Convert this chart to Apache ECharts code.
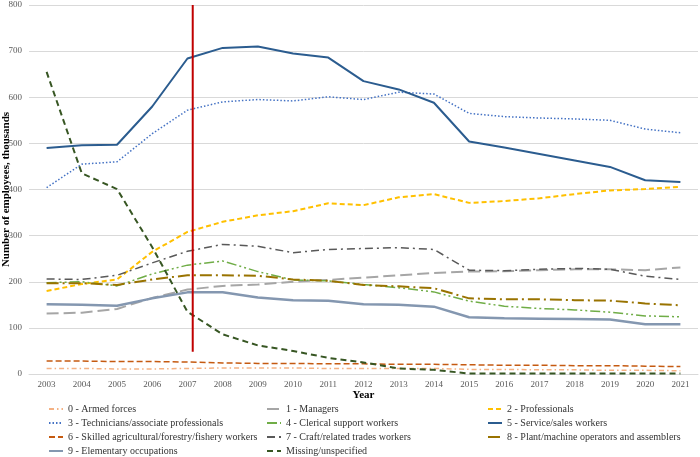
<!DOCTYPE html>
<html>
<head>
<meta charset="utf-8">
<script src="https://cdn.jsdelivr.net/npm/echarts@6/dist/echarts.min.js"></script>
<style>
  html, body { margin: 0; padding: 0; background: #fff; }
  #chart { width: 700px; height: 457px; }
</style>
</head>
<body>
<div id="chart"></div>
<script>
// years on the x axis
var years = ['2003','2004','2005','2006','2007','2008','2009','2010','2011','2012',
             '2013','2014','2015','2016','2017','2018','2019','2020','2021'];

// employees, thousands
var armedForces   = [12, 12, 11, 11, 12, 13, 13, 13, 12, 12, 12, 12, 10, 10, 9, 9, 8, 8, 7];
var managers      = [131, 133, 141, 165, 183, 191, 194, 200, 204, 209, 214, 219, 222, 223, 225, 227, 227, 225, 231];
var professionals = [180, 195, 205, 265, 308, 330, 344, 353, 370, 366, 383, 390, 371, 375, 381, 390, 398, 401, 406];
var technicians   = [404, 455, 460, 521, 572, 590, 595, 592, 601, 595, 611, 607, 565, 558, 555, 553, 550, 531, 523];
var clerical      = [198, 200, 191, 217, 236, 245, 222, 204, 202, 194, 187, 178, 158, 147, 142, 139, 134, 126, 124];
var serviceSales  = [490, 496, 497, 580, 684, 707, 710, 695, 686, 635, 617, 588, 504, 491, 477, 463, 449, 420, 416];
var skilledAgri   = [28, 28, 27, 27, 26, 24, 23, 23, 22, 22, 21, 21, 20, 19, 19, 18, 18, 17, 16];
var craft         = [206, 205, 214, 241, 266, 281, 277, 263, 270, 272, 274, 270, 225, 224, 227, 229, 227, 212, 205];
var plant         = [197, 197, 193, 205, 214, 214, 213, 205, 202, 193, 190, 186, 164, 162, 162, 160, 159, 153, 149];
var elementary    = [151, 150, 148, 164, 177, 177, 166, 160, 159, 151, 150, 146, 123, 121, 120, 119, 118, 108, 108];
var missing       = [655, 435, 401, 275, 135, 86, 62, 50, 35, 25, 12, 9, 1, 1, 1, 1, 1, 1, 1];

// vertical red marker (category index position, value range)
var markerX = 4.15;
var markerY = [48, 800];

var yTicks = { min: 0, max: 800, interval: 100 };

var font = 'Liberation Serif';

function line(name, data, color, width, dash) {
  return {
    name: name,
    type: 'line',
    data: data,
    symbol: 'none',
    silent: true,
    lineStyle: { color: color, width: width, type: dash },
    itemStyle: { color: color }
  };
}

var series = [
  line('0 - Armed forces', armedForces, '#F4B183', 1.5, [5, 3, 1.5, 3]),
  line('1 - Managers', managers, '#A6A6A6', 2, [12, 5]),
  line('2 - Professionals', professionals, '#FFC000', 2, [5, 3]),
  line('3 - Technicians/associate professionals', technicians, '#4472C4', 1.5, [1.5, 2]),
  line('4 - Clerical support workers', clerical, '#70AD47', 1.5, [10, 3, 2, 3, 2, 3]),
  line('5 - Service/sales workers', serviceSales, '#2B5C8F', 2, 'solid'),
  line('6 - Skilled agricultural/forestry/fishery workers', skilledAgri, '#C55A11', 1.5, [6, 3]),
  line('7 - Craft/related trades workers', craft, '#595959', 1.5, [8, 4, 2, 4]),
  line('8 - Plant/machine operators and assemblers', plant, '#997300', 2, [12, 4, 2, 4]),
  line('9 - Elementary occupations', elementary, '#8497B0', 2.5, 'solid'),
  line('Missing/unspecified', missing, '#375623', 2, [6, 4])
];

series.push({
  name: 'marker',
  type: 'line',
  xAxisIndex: 1,
  data: [[markerX, markerY[0]], [markerX, markerY[1]]],
  symbol: 'none',
  silent: true,
  lineStyle: { color: '#C00000', width: 2 }
});

var legendText = { fontFamily: font, fontSize: 10, color: '#333', lineHeight: 12 };
function legendCol(left, names) {
  return {
    orient: 'vertical',
    left: left,
    top: 403,
    padding: 0,
    height: 54,
    itemWidth: 14,
    itemHeight: 8,
    itemGap: 2,
    selectedMode: false,
    itemStyle: { opacity: 0 },
    textStyle: legendText,
    data: names
  };
}

var chart = echarts.init(document.getElementById('chart'));
chart.setOption({
  animation: false,
  grid: { left: 29, right: 2, top: 5, bottom: 83, outerBoundsMode: 'none' },
  legend: [
    legendCol(48, [series[0].name, series[3].name, series[6].name, series[9].name]),
    legendCol(266, [series[1].name, series[4].name, series[7].name, series[10].name]),
    legendCol(487, [series[2].name, series[5].name, series[8].name])
  ],
  xAxis: [{
    type: 'category',
    data: years,
    name: 'Year',
    nameLocation: 'middle',
    nameGap: 16,
    nameMoveOverlap: false,
    nameTextStyle: { fontFamily: font, fontSize: 11, fontWeight: 'bold', color: '#000' },
    axisLine: { lineStyle: { color: '#D9D9D9' } },
    axisTick: { show: false },
    axisLabel: { fontFamily: font, fontSize: 9, color: '#595959', margin: 6, interval: 0 }
  }, {
    type: 'value',
    min: -0.5,
    max: 18.5,
    show: false
  }],
  yAxis: {
    type: 'value',
    min: yTicks.min,
    max: yTicks.max,
    interval: yTicks.interval,
    name: 'Number of employees, thousands',
    nameLocation: 'middle',
    nameGap: 17,
    nameMoveOverlap: false,
    nameTextStyle: { fontFamily: font, fontSize: 11, fontWeight: 'bold', color: '#000' },
    axisLine: { show: false },
    axisTick: { show: false },
    axisLabel: { fontFamily: font, fontSize: 9, color: '#595959', margin: 7 },
    splitLine: { lineStyle: { color: '#D9D9D9' } }
  },
  series: series
});
</script>
</body>
</html>
